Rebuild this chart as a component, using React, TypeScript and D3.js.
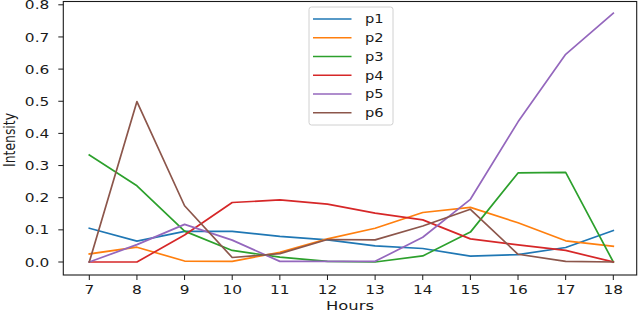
import React from "react";
import * as d3 from "d3";

const hours = [7, 8, 9, 10, 11, 12, 13, 14, 15, 16, 17, 18];
const p1 = [0.105, 0.065, 0.095, 0.095, 0.08, 0.069, 0.05, 0.042, 0.018, 0.023, 0.045, 0.098];
const p2 = [0.025, 0.046, 0.003, 0.002, 0.03, 0.072, 0.105, 0.154, 0.17, 0.122, 0.066, 0.049];
const p3 = [0.333, 0.237, 0.096, 0.036, 0.015, 0.002, 0.0, 0.019, 0.093, 0.277, 0.279, 0.0];
const p4 = [0.0, 0.0, 0.084, 0.185, 0.193, 0.18, 0.152, 0.131, 0.072, 0.053, 0.036, 0.0];
const p5 = [0.0, 0.054, 0.117, 0.068, 0.002, 0.002, 0.002, 0.077, 0.195, 0.436, 0.646, 0.774];
const p6 = [0.0, 0.499, 0.175, 0.014, 0.026, 0.07, 0.069, 0.112, 0.164, 0.024, 0.002, 0.0];
const seriesNames = ["p1", "p2", "p3", "p4", "p5", "p6"];
const seriesValues = [p1, p2, p3, p4, p5, p6];
const colors = ["#1f77b4", "#ff7f0e", "#2ca02c", "#d62728", "#9467bd", "#8c564b"];
const yTicks = [0, 0.1, 0.2, 0.3, 0.4, 0.5, 0.6, 0.7, 0.8];

export default function App() {
  const W = 640, H = 312;
  const left = 63.3, right = 636.7, top = 1.5, bottom = 275;
  const x = d3.scaleLinear().domain([7, 18]).range([89.3, 613.3]);
  const y = d3.scaleLinear().domain([0, 0.8]).range([262, 4.8]);
  const line = d3
    .line<number>()
    .x((_, i) => x(hours[i]))
    .y((v) => y(v));
  const sx = 1.22;
  const fs = 12.6;
  const textColor = "#1a1a1a";
  const legX = 309, legY = 7, legW = 84, legH = 118;
  const rowY = (i: number) => 19 + i * 18.75;

  return (
    <svg
      width={W}
      height={H}
      style={{ position: "absolute", left: 0, top: 0, background: "#fff" }}
      fontFamily="DejaVu Sans"
    >
      <rect x={0} y={0} width={W} height={H} fill="#fff" />
      {seriesValues.map((vals, k) => (
        <path
          key={seriesNames[k]}
          d={line(vals) || ""}
          fill="none"
          stroke={colors[k]}
          strokeWidth={1.7}
          strokeLinejoin="round"
          strokeLinecap="square"
        />
      ))}
      <rect
        x={left}
        y={top}
        width={right - left}
        height={bottom - top}
        fill="none"
        stroke="#1a1a1a"
        strokeWidth={1.1}
      />
      {yTicks.map((t) => (
        <g key={"y" + t}>
          <line x1={left - 5} x2={left} y1={y(t)} y2={y(t)} stroke="#1a1a1a" strokeWidth={1} />
          <text
            transform={`translate(${left - 14},${y(t) + 4.6}) scale(${sx},1)`}
            textAnchor="end"
            fontSize={fs}
            fill={textColor}
          >
            {t.toFixed(1)}
          </text>
        </g>
      ))}
      {hours.map((h) => (
        <g key={"x" + h}>
          <line x1={x(h)} x2={x(h)} y1={bottom} y2={bottom + 5} stroke="#1a1a1a" strokeWidth={1} />
          <text
            transform={`translate(${x(h)},${293.5}) scale(${sx},1)`}
            textAnchor="middle"
            fontSize={fs}
            fill={textColor}
          >
            {h}
          </text>
        </g>
      ))}
      <text
        transform={`translate(${(left + right) / 2},${310}) scale(1.26,1)`}
        textAnchor="middle"
        fontSize={13}
        fill={textColor}
      >
        Hours
      </text>
      <text
        transform={`translate(${15},${140}) scale(1.3,1) rotate(-90)`}
        textAnchor="middle"
        fontSize={12.4}
        fill={textColor}
      >
        Intensity
      </text>
      <rect
        x={legX}
        y={legY}
        width={legW}
        height={legH}
        rx={2.5}
        fill="#fff"
        fillOpacity={0.85}
        stroke="#d0d0d0"
        strokeWidth={1}
      />
      {seriesNames.map((n, i) => (
        <g key={"leg" + n}>
          <line
            x1={313}
            x2={351.5}
            y1={rowY(i)}
            y2={rowY(i)}
            stroke={colors[i]}
            strokeWidth={1.7}
          />
          <text
            transform={`translate(${365},${rowY(i) + 4.4}) scale(1.18,1)`}
            fontSize={12.4}
            fill={textColor}
          >
            {n}
          </text>
        </g>
      ))}
    </svg>
  );
}
